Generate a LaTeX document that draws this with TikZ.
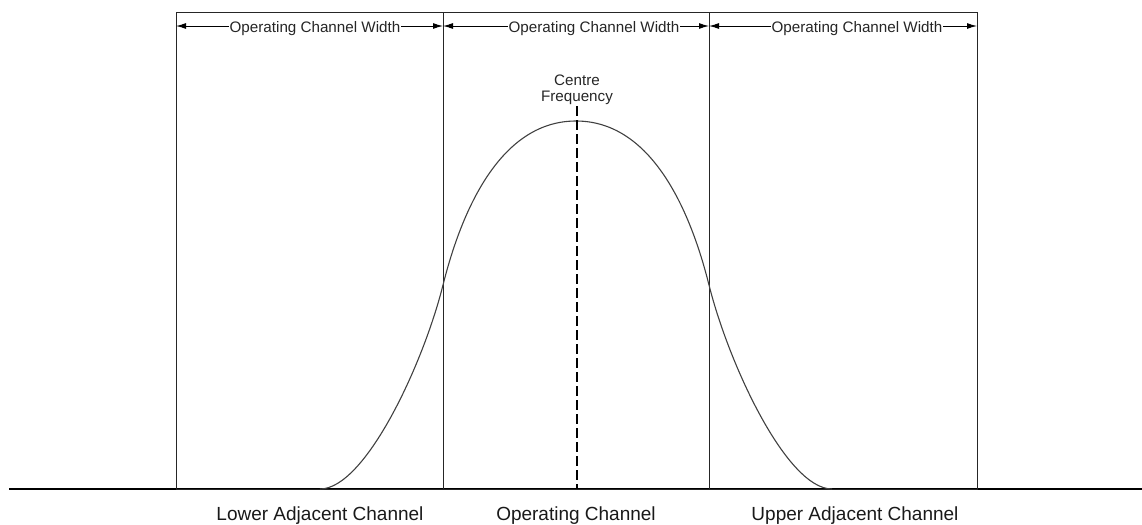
\documentclass[tikz,border=0pt]{standalone}
\usepackage{fontspec}
\setmainfont{Liberation Sans}
\usetikzlibrary{arrows.meta}
\tikzset{
Canal/.style={
 draw=black!85, 
 line width=0.5pt
 },
Axe/.style={
 draw=black, 
 line width=0.7pt
 },
Largeur/.style={
 draw=black, 
 line width=0.5pt, 
 {Latex[length=5pt,width=3pt]}-{Latex[length=5pt,width=3pt]}
 },
Courbe/.style={
 draw=black!75, 
 line width=0.55pt
 },
Centre/.style={
 draw=black, 
 line width=1pt, 
 dash pattern=on 5pt off 2pt
 },
Texte/.style={
 font=\fontsize{7.6}{8}\selectfont, 
 text=black!85, 
 inner sep=0.5pt
 },
Bas/.style={
 font=\fontsize{9.5}{11}\selectfont, 
 text=black!90, 
 anchor=base
 }
}

\begin{document}
\begin{tikzpicture}[x=0.5pt,y=-0.5pt]
\useasboundingbox (0,0) rectangle (1142,525);
% axe
\coordinate (A0) at (9,489);
\coordinate (A1) at (1142,489);
\draw[Axe] (A0) -- (A1);
% canaux et largeurs
\foreach \n/\xa/\xb in {L/176/443,O/443/709,U/709/977}{
 \coordinate (\n bg) at (\xa,489);
 \coordinate (\n hd) at (\xb,12);
 \draw[Canal] (\n bg) rectangle (\n hd);
 \coordinate (\n fg) at (\xa,26);
 \coordinate (\n fd) at (\xb,26);
 \draw[Largeur] (\n fg) -- (\n fd);
}
\node[Texte,fill=white,anchor=base] (Lw) at (315,32.5) {Operating Channel Width};
\node[Texte,fill=white,anchor=base] (Ow) at (594,32.5) {Operating Channel Width};
\node[Texte,fill=white,anchor=base] (Uw) at (857,32.5) {Operating Channel Width};
% courbe
\coordinate (Gbas) at (320,489);
\coordinate (Gi) at (443,285);
\coordinate (Pic) at (576,121);
\coordinate (Di) at (709,285);
\coordinate (Dbas) at (832,489);
\draw[Courbe] (Gbas) .. controls (365,489) and (423,365) .. (Gi)
 .. controls (459,221) and (496,121) .. (Pic)
 .. controls (656,121) and (693,221) .. (Di)
 .. controls (729,365) and (787,489) .. (Dbas);
% frequence centrale
\node[Texte,align=center,anchor=south] (CF) at (577,106) {Centre\\Frequency};
\coordinate (CB) at (577,489);
\draw[Centre] (CF.south) -- (CB);
% noms des canaux
\node[Bas] (LAC) at (320,520) {Lower Adjacent Channel};
\node[Bas] (OC) at (576,520) {Operating Channel};
\node[Bas] (UAC) at (855,520) {Upper Adjacent Channel};
\end{tikzpicture}
\end{document}
